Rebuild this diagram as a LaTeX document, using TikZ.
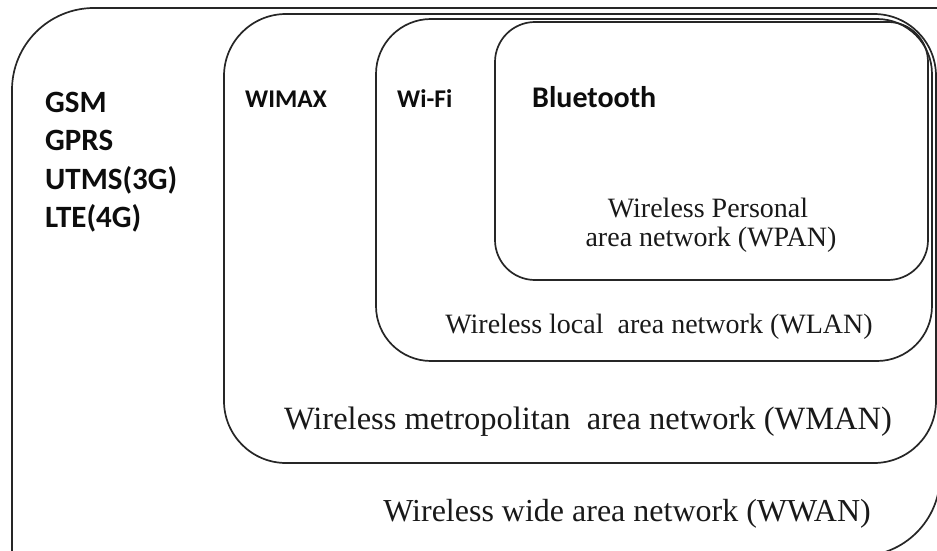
\documentclass[tikz,border=0pt]{standalone}
\usepackage{fontspec}
\setmainfont{Liberation Serif}
\newfontfamily\techfont{Carlito}
\usetikzlibrary{positioning}

\begin{document}
\begin{tikzpicture}[x=1pt,y=-1pt,
    zone/.style={draw=black!85,line width=1.7pt},
    net/.style={inner sep=0pt,text=black!90,font={\fontsize{#1}{#1}\selectfont}},
    tech/.style={inner sep=0pt,text=black!95,font={\techfont\bfseries\fontsize{#1}{#1}\selectfont}}]
\useasboundingbox (0,0) rectangle (937,551);
\clip (0,0) rectangle (937,551);
% nested areas
\draw[zone,rounded corners=82] (12,570) -- (12,8) -- (960,8);
\draw[zone,rounded corners=80] (940,0) -- (940,556) -- (820,556);
\draw[zone,rounded corners=62] (224,14) rectangle (936,463);
\draw[zone,rounded corners=55] (376,19) rectangle (932,361);
\draw[zone,rounded corners=40] (495,22) rectangle (928,280);
% technologies
\foreach \t [count=\i] in {GSM,GPRS,UTMS(3G),LTE(4G)}
    \node[tech=31,anchor=base west] (cell\i) at (45,73.5+38.5*\i) {\t};
\node[tech=25.5,anchor=base west] (wimax) at (245,107) {WIMAX};
\node[tech=25.5,anchor=base west] (wifi) at (397,107) {Wi-Fi};
\node[tech=30,anchor=base west] (bt) at (532,107) {Bluetooth};
% area names
\node[net=28,anchor=base] (wpan) at (708,217) {Wireless Personal};
\node[net=28,anchor=base] (wpanb) at (711,246) {area network (WPAN)};
\node[net=28,anchor=base] (wlan) at (659,333) {Wireless local~ area network (WLAN)};
\node[net=32.5,anchor=base] (wman) at (588,429) {Wireless metropolitan~ area network (WMAN)};
\node[net=32,anchor=base] (wwan) at (627,521) {Wireless wide area network (WWAN)};
\end{tikzpicture}
\end{document}
